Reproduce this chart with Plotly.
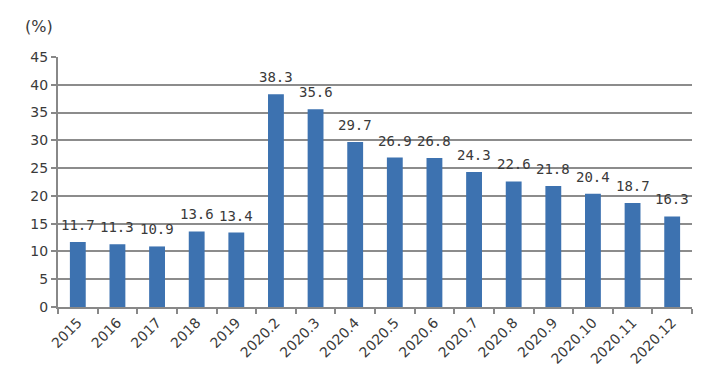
import plotly.graph_objects as go

categories = ["2015", "2016", "2017", "2018", "2019", "2020.2", "2020.3", "2020.4",
              "2020.5", "2020.6", "2020.7", "2020.8", "2020.9", "2020.10", "2020.11", "2020.12"]
values = [11.7, 11.3, 10.9, 13.6, 13.4, 38.3, 35.6, 29.7, 26.9, 26.8, 24.3, 22.6, 21.8, 20.4, 18.7, 16.3]
y_ticks = [0, 5, 10, 15, 20, 25, 30, 35, 40, 45]

fig = go.Figure(go.Bar(
    x=categories, y=values,
    marker=dict(color="#3d72b0", line=dict(width=0)),
    width=0.4,
    cliponaxis=False,
))

label_annotations = [
    dict(x=i, y=v, xref="x", yref="y", text=f"{v:.1f}", showarrow=False,
         xanchor="center", yanchor="bottom", yshift=7,
         font=dict(family="DejaVu Sans Mono", size=14, color="#3a3a3a"))
    for i, v in enumerate(values)
]

fig.update_layout(
    width=720, height=371,
    margin=dict(l=50, r=36, t=49, b=72),
    paper_bgcolor="white", plot_bgcolor="white",
    showlegend=False,
    bargap=0.6,
    xaxis=dict(
        type="category",
        categoryorder="array", categoryarray=categories,
        tickangle=-45,
        tickfont=dict(family="DejaVu Sans", size=14, color="#3a3a3a"),
        showgrid=False,
        showline=True, linecolor="#888888", linewidth=2,
        ticks="outside", ticklen=5, tickcolor="#888888", tickwidth=2,
        tickson="boundaries",
    ),
    yaxis=dict(
        range=[0, 45],
        tickvals=y_ticks,
        tickfont=dict(family="DejaVu Sans", size=14, color="#3a3a3a"),
        showgrid=True, gridcolor="#8c8c8c", gridwidth=2,
        showline=True, linecolor="#888888", linewidth=2,
        ticks="outside", ticklen=5, tickcolor="#888888", tickwidth=2,
        zeroline=False,
    ),
    annotations=label_annotations + [
        dict(text="(%)", xref="paper", yref="paper", x=-0.03, y=1.12,
             xanchor="center", yanchor="middle", showarrow=False,
             font=dict(family="DejaVu Sans", size=16, color="#3a3a3a"))],
)

fig.write_html("out.html")
